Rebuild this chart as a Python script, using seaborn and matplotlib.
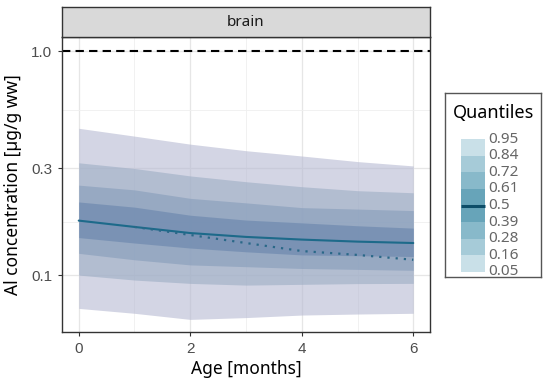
import numpy as np
import pandas as pd
import matplotlib
matplotlib.use("Agg")
import matplotlib.pyplot as plt
from matplotlib.ticker import FixedLocator, NullFormatter
import seaborn as sns

# values (Al concentration in brain, ug/g ww)
ages = [0, 1, 2, 3, 4, 5, 6]
q05 = [0.0710, 0.0675, 0.0634, 0.0646, 0.0663, 0.0670, 0.0675]
q16 = [0.100, 0.095, 0.0918, 0.0902, 0.0909, 0.0916, 0.0918]
q28 = [0.125, 0.117, 0.111, 0.109, 0.107, 0.106, 0.105]
q39 = [0.147, 0.139, 0.132, 0.127, 0.123, 0.122, 0.121]
q50 = [0.175, 0.164, 0.154, 0.148, 0.144, 0.141, 0.139]
q61 = [0.212, 0.201, 0.185, 0.176, 0.171, 0.166, 0.162]
q72 = [0.252, 0.240, 0.220, 0.210, 0.200, 0.197, 0.194]
q84 = [0.317, 0.299, 0.277, 0.261, 0.248, 0.238, 0.233]
q95 = [0.452, 0.417, 0.384, 0.359, 0.340, 0.321, 0.307]

dotted_ages = [1, 2, 3, 4, 5, 6]
dotted_vals = [0.164, 0.151, 0.139, 0.128, 0.123, 0.117]

threshold = 1.0
facet = "brain"
legend_levels = ["0.05", "0.16", "0.28", "0.39", "0.5", "0.61", "0.72", "0.84", "0.95"]

df = pd.DataFrame({"age": ages, "q05": q05, "q16": q16, "q28": q28, "q39": q39,
                   "q50": q50, "q61": q61, "q72": q72, "q84": q84, "q95": q95})
dotted = pd.DataFrame({"age": dotted_ages, "value": dotted_vals})

sns.set_style("white")
plt.rcParams["font.family"] = ["Liberation Sans", "DejaVu Sans"]
title_font = ["Noto Sans", "DejaVu Sans"]

fig = plt.figure(figsize=(5.5, 3.85), dpi=100)
ax = fig.add_axes([62 / 550, 53 / 385, 368 / 550, 295 / 385])

# nested ribbons, outer to inner
bands = [("q05", "q95", "#b6b9d2"), ("q16", "q84", "#9cadc4"),
         ("q28", "q72", "#859cba"), ("q39", "q61", "#6784ac")]
for lo, hi, col in bands:
    ax.fill_between(df["age"], df[lo], df[hi], color=col, alpha=0.6, lw=0)

sns.lineplot(data=df, x="age", y="q50", ax=ax, color="#1d6a8a", lw=1.5)
sns.lineplot(data=dotted, x="age", y="value", ax=ax, color="#2a6888", lw=1.6,
             linestyle=(0, (1, 2.7)))
ax.axhline(threshold, color="black", lw=1.5, linestyle=(0, (4, 2.5)))

ax.set_yscale("log")
ax.set_xlim(-0.3, 6.3)
ax.set_ylim(0.0557, 1.155)
ax.set_xticks([0, 2, 4, 6])
ax.set_xticklabels(["0", "2", "4", "6"])
ax.xaxis.set_minor_locator(FixedLocator([1, 3, 5]))
ax.set_yticks([0.1, 0.3, 1.0])
ax.set_yticklabels(["0.1", "0.3", "1.0"])
ax.yaxis.set_minor_locator(FixedLocator([np.sqrt(0.03), np.sqrt(0.3)]))
ax.yaxis.set_minor_formatter(NullFormatter())

ax.set_axisbelow(True)
ax.grid(which="major", color="#e6e6e6", lw=0.9)
ax.grid(which="minor", color="#efefef", lw=0.6)
ax.tick_params(which="major", length=3, width=0.8, color="#333333",
               labelcolor="#4d4d4d", labelsize=11, pad=4,
               bottom=True, left=True)
ax.tick_params(which="minor", length=0)
for s in ax.spines.values():
    s.set_color("#333333")
    s.set_linewidth(1.0)

ax.set_xlabel("Age [months]", fontsize=12.5, family=title_font, color="black")
ax.set_ylabel("Al concentration [µg/g ww]", fontsize=12.5, family=title_font,
              color="black")
ax.xaxis.set_label_coords(0.5, -0.095)
ax.yaxis.set_label_coords(-0.108, 0.5)

# facet strip
sax = fig.add_axes([62 / 550, 348 / 385, 368 / 550, 30 / 385])
sax.set_facecolor("#d9d9d9")
sax.set_xticks([])
sax.set_yticks([])
for s in sax.spines.values():
    s.set_color("#333333")
    s.set_linewidth(1.0)
sax.text(0.5, 0.5, facet, ha="center", va="center", fontsize=11,
         color="#1a1a1a", family=title_font, transform=sax.transAxes)

# quantile legend
lax = fig.add_axes([445 / 550, 108 / 385, 96 / 550, 184 / 385])
lax.set_xlim(0, 1)
lax.set_ylim(-0.32, 10.8)
lax.set_xticks([])
lax.set_yticks([])
for s in lax.spines.values():
    s.set_color("#555555")
    s.set_linewidth(1.0)
key_cols = ["#c9e0e8", "#a6cbd8", "#88b9ca", "#67a4b9",
            "#67a4b9", "#88b9ca", "#a6cbd8", "#c9e0e8"]
for i, col in enumerate(key_cols):
    lax.fill_between([0.167, 0.417], i, i + 1, color=col, lw=0)
mid = legend_levels.index("0.5")
lax.plot([0.167, 0.417], [mid, mid], color="#0d4d68", lw=2.2, solid_capstyle="butt")
for i, lab in enumerate(legend_levels):
    lax.text(0.45, i, lab, ha="left", va="center", fontsize=11,
             color="#666666", family=title_font)
lax.text(0.503, 9.59, "Quantiles", ha="center", va="center", fontsize=13,
         color="black", family=title_font)

fig.savefig("out.png", dpi=100)
